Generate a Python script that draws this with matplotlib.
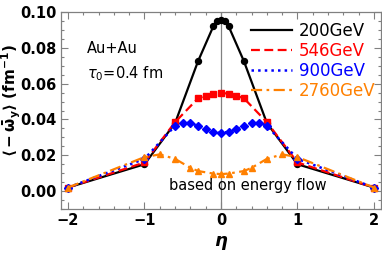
import matplotlib
matplotlib.use("Agg")
import matplotlib.pyplot as plt
from matplotlib.ticker import MultipleLocator

eta_200 = [-2, -1, -0.6, -0.3, -0.1, -0.05, 0, 0.05, 0.1, 0.3, 0.6, 1, 2]
w_200 = [0.002, 0.015, 0.038, 0.0725, 0.092, 0.0948, 0.0957, 0.0948, 0.092, 0.0725, 0.038, 0.015, 0.002]

eta_546 = [-2, -1, -0.6, -0.3, -0.2, -0.1, 0, 0.1, 0.2, 0.3, 0.6, 1, 2]
w_546 = [0.002, 0.016, 0.0385, 0.0518, 0.0533, 0.0544, 0.0548, 0.0544, 0.0533, 0.0518, 0.0385, 0.016, 0.002]

eta_900 = [-2, -1, -0.6, -0.5, -0.4, -0.3, -0.2, -0.1, 0, 0.1, 0.2, 0.3, 0.4, 0.5, 0.6, 1, 2]
w_900 = [0.002, 0.018, 0.0365, 0.038, 0.038, 0.0365, 0.0345, 0.033, 0.0327, 0.033, 0.0345, 0.0365, 0.038, 0.038, 0.0365, 0.018, 0.002]

eta_2760 = [-2, -1, -0.8, -0.6, -0.4, -0.3, -0.1, 0, 0.1, 0.3, 0.4, 0.6, 0.8, 1, 2]
w_2760 = [0.002, 0.019, 0.0205, 0.018, 0.013, 0.0112, 0.0098, 0.0095, 0.0098, 0.0112, 0.013, 0.018, 0.0205, 0.019, 0.002]

labels = ["200GeV", "546GeV", "900GeV", "2760GeV"]
colors = ["black", "#ff0000", "#0000ff", "#ff8000"]

plt.rcParams['mathtext.fontset'] = 'dejavusans'

fig = plt.figure(figsize=(3.82, 2.60), dpi=100)
ax = fig.add_axes([0.160, 0.196, 0.837, 0.758])

ax.axvline(0, color="#808080", lw=0.9, zorder=0)

ax.plot(eta_200, w_200, '-', color=colors[0], lw=1.6, marker='o', ms=4.3, label=labels[0])
ax.plot(eta_546, w_546, '--', color=colors[1], lw=1.6, marker='s', ms=4, dashes=(4, 2), label=labels[1])
ax.plot(eta_900, w_900, ':', color=colors[2], lw=1.8, marker='D', ms=4, label=labels[2])
ax.plot(eta_2760, w_2760, '-.', color=colors[3], lw=1.6, marker='^', ms=5, dashes=(5, 2, 1.2, 2), label=labels[3])

ax.set_xlim(-2.09, 2.09)
ax.set_ylim(-0.01, 0.10)
ax.set_xticks([-2, -1, 0, 1, 2])
ax.set_xticklabels(["\u22122", "\u22121", "0", "1", "2"])
ax.set_yticks([0.0, 0.02, 0.04, 0.06, 0.08, 0.10])
ax.set_yticklabels(["0.00", "0.02", "0.04", "0.06", "0.08", "0.10"])
ax.xaxis.set_minor_locator(MultipleLocator(0.2))
ax.yaxis.set_minor_locator(MultipleLocator(0.005))
ax.tick_params(which='both', direction='in', top=True, right=True, color='#808080', width=0.8)
ax.tick_params(which='major', length=5, labelsize=10.5, pad=3)
ax.tick_params(which='minor', length=2.5)
for lab in ax.get_xticklabels() + ax.get_yticklabels():
    lab.set_fontweight('bold')
for s in ax.spines.values():
    s.set_color('#808080')
    s.set_linewidth(0.9)

ax.set_xlabel(r'$\boldsymbol{\eta}$', fontsize=13)
ax.set_ylabel(r'$\mathbf{\langle-\bar{\omega}_y\rangle}$ (fm$^{\mathbf{-1}}$)', fontsize=11, fontweight='bold')
ax.yaxis.set_label_coords(-0.118, 0.55)

ax.text(-1.75, 0.077, "Au+Au", fontsize=10.5)
ax.text(-1.75, 0.063, r"$\tau_0$=0.4 fm", fontsize=10.5)
ax.text(0.35, 0.0005, "based on energy flow", fontsize=10.5, ha='center')

leg = ax.legend(loc='upper right', bbox_to_anchor=(1.01, 0.99), frameon=False, fontsize=12,
                handlelength=2.5, handletextpad=0.4, labelspacing=0.12, borderaxespad=0.1)
for t, c in zip(leg.get_texts(), colors):
    t.set_color(c)
for h in leg.legend_handles:
    h.set_marker('')

fig.savefig("out.png", dpi=100)
